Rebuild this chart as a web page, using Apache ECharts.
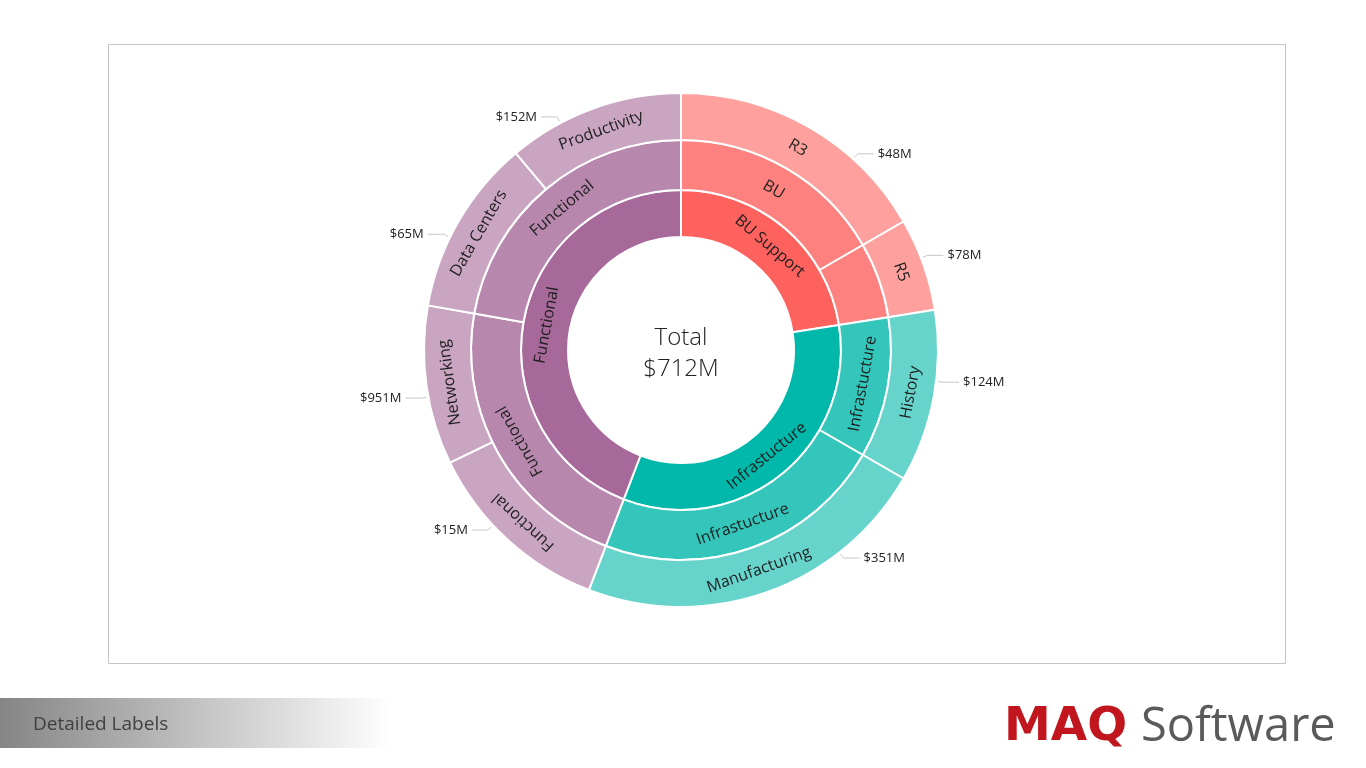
<!DOCTYPE html>
<html><head><meta charset="utf-8">
<script src="https://cdn.jsdelivr.net/npm/echarts@6/dist/echarts.min.js"></script>
<style>html,body{margin:0;padding:0;background:#fff}#c{width:1366px;height:768px}</style>
</head><body><div id="c"></div>
<script>
// ---- data (clockwise from 12 o'clock) ----
const innerNames = ['BU Support', 'Infrastucture', 'Functional'];
const middleNames = ['BU', 'BU', 'Infrastucture', 'Infrastucture', 'Functional', 'Functional'];
const middleParent = [0, 0, 1, 1, 2, 2];
const outerNames = ['R3', 'R5', 'History', 'Manufacturing', 'Functional', 'Networking', 'Data Centers', 'Productivity'];
const outerParent = [0, 1, 2, 3, 4, 4, 5, 5];
const outerValues = [60, 21, 39, 81, 43, 36, 40, 40];
const outerAmounts = ['$48M', '$78M', '$124M', '$351M', '$15M', '$951M', '$65M', '$152M'];
const totalLabel = 'Total';
const totalAmount = '$712M';
const hiddenMiddleLabels = [1];

// ---- layout / styles ----
const CX = 681, CY = 350;
const R_OUT = 257;
// leader-line anchor angles (degrees clockwise from top) used by the reference's label placement
const valueLabelAngles = [42, 69, 97, 142, 227, 259.5, 296, 332];
const baseColors = ['#FD625E', '#01B8AA', '#A66999'];
const FONT = "'Segoe UI', 'Open Sans', 'Noto Sans', sans-serif";
function tint(hex, k) {
  const n = parseInt(hex.slice(1), 16);
  const c = [(n >> 16) & 255, (n >> 8) & 255, n & 255].map(v => Math.round(v * k + 255 * (1 - k)));
  return 'rgb(' + c.join(',') + ')';
}
const total = outerValues.reduce((a, b) => a + b, 0);
function rotFor(startV, v) {
  const theta = (startV + v / 2) / total * 360; // clockwise from top
  let r = theta < 90 ? theta : (theta < 180 ? theta - 180 : theta - 360);
  return -r;
}

// build tree
let cum = 0;
const outerStart = outerValues.map(v => { const s = cum; cum += v; return s; });
const middleNodes = middleNames.map((name, mi) => {
  const kids = [];
  outerNames.forEach((n, oi) => {
    if (outerParent[oi] === mi) {
      kids.push({
        name: n, value: outerValues[oi],
        itemStyle: { color: tint(baseColors[middleParent[mi]], 0.6) },
        label: { rotate: rotFor(outerStart[oi], outerValues[oi]) }
      });
    }
  });
  return { name, children: kids };
});
middleNodes.forEach((m, mi) => {
  const idx = outerParent.map((p, i) => p === mi ? i : -1).filter(i => i >= 0);
  const s = outerStart[idx[0]];
  const v = idx.reduce((a, i) => a + outerValues[i], 0);
  m.itemStyle = { color: tint(baseColors[middleParent[mi]], 0.8) };
  m.label = { rotate: rotFor(s, v), show: hiddenMiddleLabels.indexOf(mi) < 0 };
  m._s = s; m._v = v;
});
const sunData = innerNames.map((name, ii) => {
  const kids = middleNodes.filter((m, mi) => middleParent[mi] === ii);
  const s = kids[0]._s;
  const v = kids.reduce((a, k) => a + k._v, 0);
  return { name, children: kids, itemStyle: { color: baseColors[ii] }, label: { rotate: rotFor(s, v) } };
});
middleNodes.forEach(m => { delete m._s; delete m._v; });

function polar(r, deg) {
  const a = deg * Math.PI / 180;
  return [CX + r * Math.sin(a), CY - r * Math.cos(a)];
}

const chart = echarts.init(document.getElementById('c'), null, { renderer: 'canvas' });
chart.setOption({
  animation: false,
  graphic: [
    { type: 'rect', shape: { x: 108.5, y: 44.5, width: 1177, height: 619 }, style: { fill: 'none', stroke: '#c4c4c4', lineWidth: 1 }, silent: true },
    { type: 'rect', shape: { x: 0, y: 698, width: 392, height: 50 }, silent: true,
      style: { fill: new echarts.graphic.LinearGradient(0, 0, 1, 0, [{ offset: 0, color: '#858585' }, { offset: 1, color: '#ffffff' }]) } },
    { type: 'text', x: 33, y: 725, silent: true,
      style: { text: 'Detailed Labels', fill: '#404040', font: "19px " + FONT, textVerticalAlign: 'middle' } },
    { type: 'text', x: 1004, y: 728, silent: true,
      style: { text: 'MAQ', fill: '#C1161E', font: "bold 47px 'DejaVu Sans', sans-serif", textVerticalAlign: 'middle' } },
    { type: 'text', x: 1141, y: 728, silent: true,
      style: { text: 'Software', fill: '#5a5a5a', font: "47px " + FONT, textVerticalAlign: 'middle' } },
    { type: 'text', x: CX, y: 354, silent: true,
      style: { text: totalLabel + '\n' + totalAmount, fill: '#222', font: "300 24px " + FONT, textAlign: 'center', textVerticalAlign: 'middle', lineHeight: 31 } }
  ],
  series: [
    {
      type: 'sunburst',
      center: [CX, CY],
      radius: [113, R_OUT],
      sort: null,
      startAngle: 90,
      clockwise: true,
      nodeClick: false,
      emphasis: { disabled: true },
      itemStyle: { borderColor: '#fff', borderWidth: 2 },
      label: { color: '#1e1e1e', fontSize: 16, fontFamily: FONT, minAngle: 0 },
      levels: [
        {},
        { r0: 113, r: 160 },
        { r0: 160, r: 210 },
        { r0: 210, r: R_OUT }
      ],
      data: sunData
    },
    {
      type: 'pie',
      center: [CX, CY],
      radius: [210, R_OUT],
      startAngle: 90,
      clockwise: true,
      silent: true,
      avoidLabelOverlap: false,
      emphasis: { disabled: true },
      itemStyle: { color: 'rgba(0,0,0,0)' },
      label: {
        show: true, position: 'outside', color: '#222', fontSize: 13, fontFamily: FONT,
        formatter: p => outerAmounts[p.dataIndex]
      },
      labelLine: { show: true, length: 6, length2: 16, lineStyle: { color: '#c8c8c8', width: 1 } },
      labelLayout: function (p) {
        const ang = valueLabelAngles[p.dataIndex];
        const right = ang < 180;
        const p0 = polar(R_OUT + 2, ang);
        const p1 = polar(R_OUT + 7, ang);
        const p2 = [p1[0] + (right ? 16 : -16), p1[1]];
        return {
          x: p2[0] + (right ? 4 : -4), y: p2[1],
          align: right ? 'left' : 'right', verticalAlign: 'middle',
          labelLinePoints: [p0, p1, p2]
        };
      },
      data: outerNames.map((n, i) => ({ name: n, value: outerValues[i] }))
    }
  ]
});
</script>
</body></html>
